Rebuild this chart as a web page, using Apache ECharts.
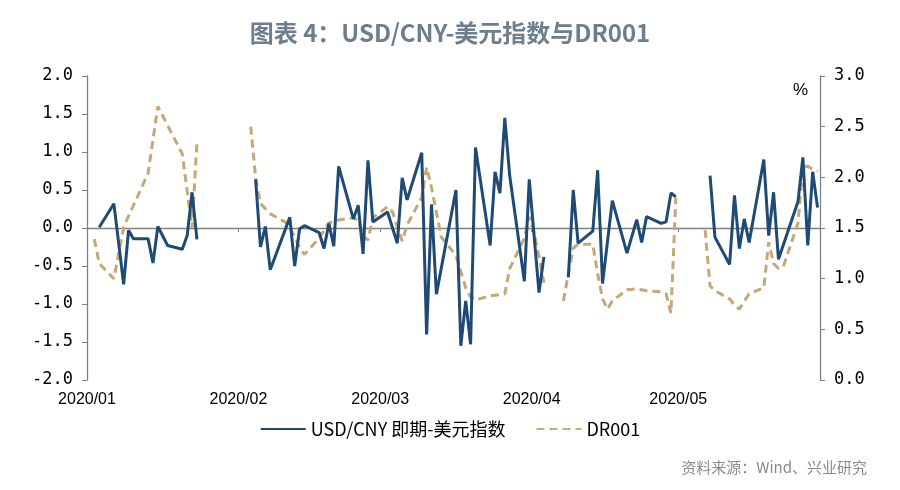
<!DOCTYPE html>
<html>
<head>
<meta charset="utf-8">
<script src="https://cdn.jsdelivr.net/npm/echarts@6/dist/echarts.min.js"></script>
<style>
html,body{margin:0;padding:0;background:#fff;}
#chart{width:900px;height:490px;}
</style>
</head>
<body>
<div id="chart"></div>
<script>
// ---- data ----
const titleText = '图表 4：USD/CNY-美元指数与DR001';
const sourceText = '资料来源：Wind、兴业研究';
const seriesNames = ['USD/CNY 即期-美元指数', 'DR001'];
const monthLabels = ['2020/01', '2020/02', '2020/03', '2020/04', '2020/05'];
const monthStarts = ['01-01', '02-01', '03-01', '04-01', '05-01'];
const leftTicks = { min: -2, max: 2, step: 0.5 };
const rightTicks = { min: 0, max: 3, step: 0.5 };

// USD/CNY spot minus USD index (left axis); null marks a holiday gap
const usdDates = [
  '01-03','01-06','01-08','01-09','01-10','01-13','01-14','01-15','01-17','01-20','01-21','01-22','01-23',
  '01-28',
  '02-04','02-05','02-06','02-07','02-11','02-12','02-13','02-14','02-17','02-18','02-19','02-20','02-21',
  '02-24','02-25','02-26','02-27','02-28',
  '03-02','03-04','03-05','03-06','03-09','03-10','03-11','03-12','03-16','03-17','03-18','03-19','03-20',
  '03-23','03-24','03-25','03-26','03-27','03-30','03-31','04-02','04-03',
  '04-05',
  '04-08','04-09','04-10','04-13','04-14','04-15','04-17','04-20','04-22','04-23','04-24','04-27','04-28','04-29','04-30',
  '05-03',
  '05-07','05-08','05-11','05-12','05-13','05-14','05-15','05-18','05-19','05-20','05-21','05-25','05-26','05-27','05-28','05-29'
];
const usdValues = [
  0.01, 0.32, -0.74, -0.03, -0.14, -0.14, -0.46, 0.02, -0.23, -0.28, -0.10, 0.47, -0.15,
  null,
  0.64, -0.25, 0.02, -0.55, 0.14, -0.50, -0.01, 0.03, -0.06, -0.27, 0.06, -0.24, 0.81,
  0.12, 0.30, -0.34, 0.89, 0.08,
  0.21, -0.20, 0.66, 0.37, 0.99, -1.40, 0.31, -0.87, 0.50, -1.55, -0.96, -1.53, 1.06,
  -0.23, 0.74, 0.46, 1.45, 0.69, -0.70, 0.64, -0.85, -0.38,
  null,
  -0.65, 0.50, -0.20, -0.04, 0.76, -0.73, 0.36, -0.33, 0.11, -0.19, 0.15, 0.06, 0.08, 0.46, 0.41,
  null,
  0.69, -0.12, -0.48, 0.43, -0.27, 0.12, -0.19, 0.90, -0.10, 0.47, -0.41, 0.35, 0.93, -0.23, 0.74, 0.27
];

// DR001, % (right axis); null marks a holiday gap
const drDates = [
  '01-02','01-03','01-06','01-08','01-13','01-15','01-20','01-22','01-23',
  '01-28',
  '02-03','02-04','02-05','02-07','02-10','02-11','02-13','02-14','02-17','02-19','02-21','02-24','02-25',
  '02-26','02-27','02-28',
  '03-02','03-03','03-05','03-06','03-09','03-10','03-11','03-13','03-16','03-18','03-19','03-20','03-23',
  '03-26','03-27','03-30','03-31','04-01','04-02','04-03',
  '04-05',
  '04-07','04-08','04-09','04-10','04-13','04-14','04-15','04-16','04-17','04-20','04-22','04-24','04-27',
  '04-28','04-29','04-30',
  '05-03',
  '05-06','05-07','05-08','05-11','05-12','05-13','05-14','05-15','05-18','05-19','05-20','05-21','05-22',
  '05-25','05-26','05-27','05-28','05-29'
];
const drValues = [
  1.39, 1.15, 1.00, 1.51, 2.04, 2.70, 2.23, 1.50, 2.35,
  null,
  2.50, 2.00, 1.74, 1.64, 1.56, 1.51, 1.31, 1.24, 1.40, 1.55, 1.58, 1.60, 1.58,
  1.42, 1.38, 1.60,
  1.71, 1.66, 1.37, 1.53, 1.80, 2.10, 1.90, 1.41, 1.23, 0.91, 0.82, 0.79, 0.83,
  0.85, 1.10, 1.40, 1.61, 1.45, 1.22, 0.96,
  null,
  0.78, 1.05, 1.30, 1.34, 1.34, 1.05, 0.80, 0.70, 0.78, 0.89, 0.90, 0.88, 0.87,
  0.85, 0.66, 1.80,
  null,
  1.48, 0.93, 0.88, 0.80, 0.74, 0.70, 0.78, 0.85, 0.91, 1.36, 1.15, 1.10, 1.12,
  1.55, 2.10, 2.11, 2.08, 2.06
];

// ---- helpers ----
function dayIndex(md) {
  const p = md.split('-').map(Number);
  return Math.round((Date.UTC(2020, p[0] - 1, p[1]) - Date.UTC(2020, 0, 1)) / 86400000);
}
function pairs(dates, values) {
  return dates.map((d, i) => [dayIndex(d), values[i]]);
}
// month boundaries sit between day slots
const monthTickValues = monthStarts.map(m => dayIndex(m) - 0.5);
const xMin = monthTickValues[0];
const xMax = dayIndex('05-31') - 1.5;

const BLUE = '#1f4a74';
const GOLD = '#c4a876';
const AXIS = '#808080';

const chart = echarts.init(document.getElementById('chart'), null, { renderer: 'canvas' });
chart.setOption({
  animation: false,
  backgroundColor: '#ffffff',
  title: [
    {
      text: titleText, left: 'center', top: 16,
      textStyle: { fontFamily: 'Noto Sans CJK SC', fontSize: 24, fontWeight: 'bold', color: '#6f7e8d' }
    },
    {
      text: sourceText, right: 28, top: 455,
      textStyle: { fontFamily: 'Noto Sans CJK SC', fontSize: 15, fontWeight: 'normal', color: '#8a8a8a' }
    }
  ],
  legend: {
    top: 415, left: 'center', itemWidth: 45, itemHeight: 14, itemGap: 30,
    itemStyle: { opacity: 0 },
    textStyle: { fontFamily: 'Noto Sans CJK SC', fontSize: 18, color: '#000' },
    data: seriesNames
  },
  grid: { left: 87, right: 80, top: 76, bottom: 110 },
  xAxis: [
    {
      type: 'value', min: xMin, max: xMax, position: 'bottom',
      axisLine: { show: false, onZero: false },
      axisTick: { show: false },
      splitLine: { show: false },
      axisLabel: {
        customValues: monthTickValues, showMinLabel: true, showMaxLabel: true,
        margin: 12, fontFamily: 'Liberation Sans', fontSize: 16, color: '#000',
        formatter: v => {
          const i = monthTickValues.indexOf(v);
          return i >= 0 ? monthLabels[i] : '';
        }
      }
    },
    {
      type: 'value', min: xMin, max: xMax, position: 'bottom',
      axisLine: { show: true, onZero: true, onZeroAxisIndex: 0, lineStyle: { color: AXIS, width: 1.3 } },
      axisTick: { show: true, customValues: monthTickValues, length: 4, lineStyle: { color: AXIS } },
      axisLabel: { show: false },
      splitLine: { show: false }
    }
  ],
  yAxis: [
    {
      type: 'value', position: 'left', min: leftTicks.min, max: leftTicks.max, interval: leftTicks.step,
      axisLine: { show: true, onZero: false, lineStyle: { color: AXIS, width: 1.3 } },
      axisTick: { show: true, length: 5, lineStyle: { color: AXIS } },
      splitLine: { show: false },
      axisLabel: { margin: 14, fontFamily: 'DejaVu Sans Mono', fontSize: 17, color: '#000', formatter: v => v.toFixed(1) }
    },
    {
      type: 'value', position: 'right', min: rightTicks.min, max: rightTicks.max, interval: rightTicks.step,
      name: '%', nameLocation: 'end', nameGap: -23,
      nameTextStyle: { fontFamily: 'Liberation Sans', fontSize: 17, color: '#000', align: 'right', padding: [0, 12, 0, 0] },
      axisLine: { show: true, onZero: false, lineStyle: { color: AXIS, width: 1.3 } },
      axisTick: { show: true, length: 5, lineStyle: { color: AXIS } },
      splitLine: { show: false },
      axisLabel: { margin: 14, fontFamily: 'DejaVu Sans Mono', fontSize: 17, color: '#000', formatter: v => v.toFixed(1) }
    }
  ],
  series: [
    {
      name: seriesNames[0], type: 'line', xAxisIndex: 0, yAxisIndex: 0,
      data: pairs(usdDates, usdValues), connectNulls: false,
      symbol: 'none', showSymbol: false,
      lineStyle: { color: BLUE, width: 3 }, itemStyle: { color: BLUE }, z: 3
    },
    {
      name: seriesNames[1], type: 'line', xAxisIndex: 0, yAxisIndex: 1,
      data: pairs(drDates, drValues), connectNulls: false,
      symbol: 'none', showSymbol: false,
      lineStyle: { color: GOLD, width: 3, type: [8, 5] }, itemStyle: { color: GOLD }, z: 2
    }
  ]
});
</script>
</body>
</html>
